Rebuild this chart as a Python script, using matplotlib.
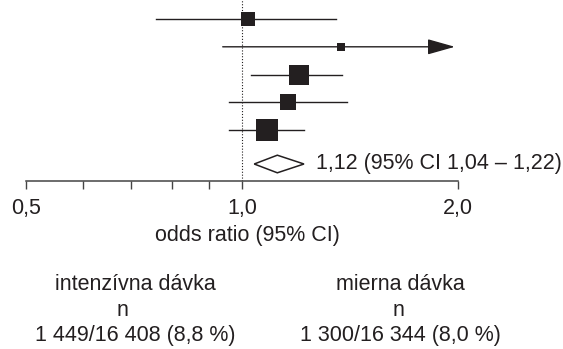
import matplotlib.pyplot as plt
import numpy as np

plt.rcParams['font.family'] = ['Liberation Sans', 'DejaVu Sans']

# subgroup odds ratios, top to bottom
or_est = [1.02, 1.375, 1.20, 1.16, 1.085]
or_lo = [0.76, 0.94, 1.03, 0.96, 0.96]
or_hi = [1.35, 1.98, 1.38, 1.40, 1.22]
off_scale = [False, True, False, False, False]   # upper CI beyond 2,0 -> arrow
weight = [13.1, 5.4, 26.8, 19.3, 35.4]             # box area ~ weight (%)

# pooled estimate
pooled = 1.12
pooled_lo = 1.04
pooled_hi = 1.22

major_ticks = [0.5, 1.0, 2.0]
major_labels = ['0,5', '1,0', '2,0']
minor_ticks = [0.6, 0.7, 0.8, 0.9]

groups = ['intenzívna dávka', 'mierna dávka']
group_n = ['1 449/16 408 (8,8 %)', '1 300/16 344 (8,0 %)']

ink = '#231f20'
fs = 15.5

fig = plt.figure(figsize=(5.63, 3.49), dpi=100)
ax = fig.add_axes([0, 1 - 180.5 / 349, 1, 180.5 / 349])

# log x scale, 0,5 sits 26 px from the left edge, 216 px per doubling
ppd = 216.0
ax.set_xscale('log')
ax.set_xlim(0.5 * 2 ** (-26 / ppd), 0.5 * 2 ** ((563 - 26) / ppd))
row_px = 27.8
ax.set_ylim((180.5 - 19) / row_px, -19 / row_px)

rows = np.arange(len(or_est))
y_pool = (164 - 19) / row_px

ax.axvline(1.0, color=ink, lw=0.8, ls=(0, (1, 1.6)), zorder=1)

for i in rows:
    if off_scale[i]:
        ax.annotate('', xy=(or_hi[i], rows[i]), xytext=(or_lo[i], rows[i]),
                    arrowprops=dict(arrowstyle='-|>,head_length=1.7,head_width=0.48',
                                    mutation_scale=10, lw=1.0, color=ink,
                                    shrinkA=0, shrinkB=0))
    else:
        ax.plot([or_lo[i], or_hi[i]], [rows[i], rows[i]], color=ink, lw=1.0, zorder=2)
    ax.plot(or_est[i], rows[i], marker='s', ms=2.78 * np.sqrt(weight[i]),
            color=ink, mec=ink, mew=0, zorder=3)

h = 8.8 / row_px
ax.fill([pooled_lo, pooled, pooled_hi, pooled],
        [y_pool, y_pool - h, y_pool, y_pool + h],
        facecolor='white', edgecolor=ink, lw=1.1, zorder=3)
txt = '%s (95%% CI %s – %s)' % (('%.2f' % pooled).replace('.', ','),
                                 ('%.2f' % pooled_lo).replace('.', ','),
                                 ('%.2f' % pooled_hi).replace('.', ','))
ax.annotate(txt, xy=(pooled_hi, y_pool), xytext=(9, 0), textcoords='offset points',
            va='center', ha='left', fontsize=fs, color=ink)

for s in ['top', 'left', 'right']:
    ax.spines[s].set_visible(False)
ax.spines['bottom'].set_bounds(0.5, 2.0)
ax.spines['bottom'].set_color('#444444')
ax.spines['bottom'].set_linewidth(1.1)
ax.set_yticks([])
ax.set_xticks(major_ticks)
ax.set_xticklabels(major_labels)
ax.set_xticks(minor_ticks, minor=True)
ax.set_xticklabels([], minor=True)
ax.tick_params(axis='x', which='both', direction='out', length=5.4, width=1.0,
               color='#444444', labelsize=fs, labelcolor=ink, pad=7)
ax.patch.set_visible(False)

fig.text(247 / 563, 1 - 236 / 349, 'odds ratio (95% CI)', ha='center', va='center',
         fontsize=fs, color=ink)

col_x = [135, 400]
n_x = [122, 398]
for j in range(2):
    fig.text(col_x[j] / 563, 1 - 285 / 349, groups[j], ha='center', va='center',
             fontsize=fs, color=ink)
    fig.text(n_x[j] / 563, 1 - 310 / 349, 'n', ha='center', va='center',
             fontsize=fs, color=ink)
    fig.text(col_x[j] / 563, 1 - 335 / 349, group_n[j], ha='center', va='center',
             fontsize=fs, color=ink)

plt.savefig('out.png', dpi=100)
